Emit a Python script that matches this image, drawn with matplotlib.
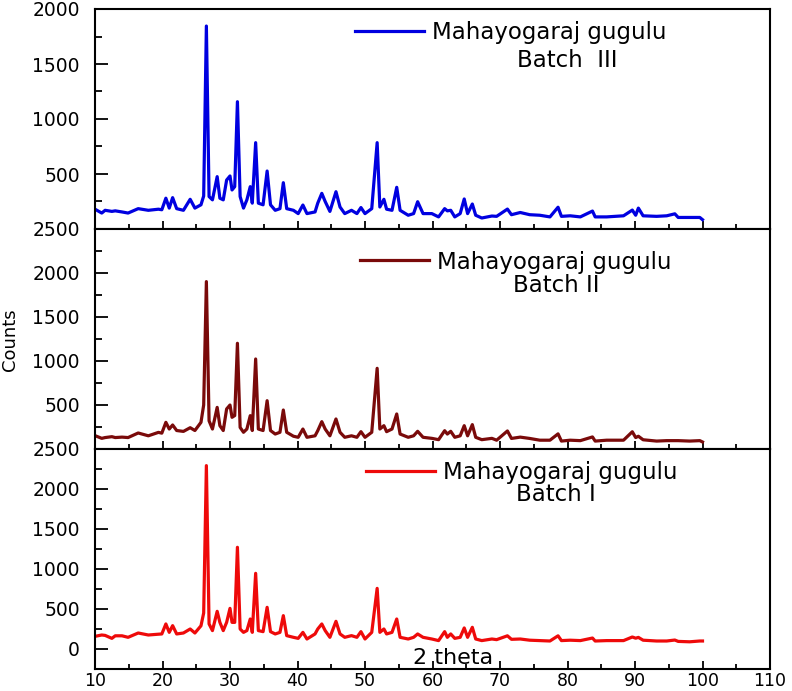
import numpy as np
import matplotlib
matplotlib.use("Agg")
import matplotlib.pyplot as plt
from matplotlib.ticker import MultipleLocator

plt.rcParams['font.family'] = ['DejaVu Sans']

# 2 theta positions (deg)
two_theta = [10.0, 11.0, 11.5, 12.5, 13.0, 14.0, 14.9, 16.4, 17.9, 19.4,
             19.9, 20.5, 21.0, 21.5, 22.1, 23.1, 24.1, 24.8, 25.7, 26.1,
             26.5, 26.9, 27.4, 28.1, 28.5, 29.0, 29.5, 30.0, 30.3, 30.7,
             31.1, 31.5, 32.0, 32.5, 33.0, 33.3, 33.8, 34.2, 34.9, 35.5,
             36.0, 36.7, 37.4, 37.9, 38.4, 39.4, 40.1, 40.8, 41.4, 42.6,
             43.0, 43.6, 44.1, 44.8, 45.7, 46.3, 47.0, 48.0, 48.8, 49.4,
             50.0, 51.0, 51.8, 52.2, 52.8, 53.2, 54.0, 54.7, 55.2, 56.4,
             57.2, 57.8, 58.6, 59.9, 60.9, 61.8, 62.2, 62.7, 63.3, 64.1,
             64.7, 65.2, 65.9, 66.4, 67.3, 68.8, 69.5, 71.1, 71.7, 73.0,
             74.4, 75.9, 77.4, 78.6, 79.1, 80.4, 81.9, 83.7, 84.1, 85.8,
             88.3, 89.6, 90.1, 90.5, 91.2, 93.2, 94.7, 95.9, 96.4, 98.1,
             99.6, 100.0]

batch3 = [180, 145, 170, 160, 165, 155, 145, 185, 170, 180,
          175, 280, 190, 285, 185, 170, 270, 190, 220, 300,
          1845, 295, 265, 476, 280, 265, 445, 482, 355, 385,
          1157, 295, 190, 265, 385, 235, 785, 235, 220, 527,
          220, 170, 185, 421, 185, 170, 140, 218, 140, 155,
          235, 324, 250, 160, 339, 200, 140, 170, 140, 195,
          140, 185, 785, 200, 270, 180, 170, 379, 170, 125,
          140, 248, 140, 140, 110, 185, 165, 170, 110, 140,
          273, 140, 227, 125, 100, 118, 115, 181, 130, 150,
          130, 125, 110, 198, 115, 120, 110, 163, 110, 110,
          120, 172, 125, 190, 120, 115, 120, 138, 105, 105,
          105, 85]

batch2 = [152, 121, 130, 140, 130, 135, 130, 182, 150, 189,
          180, 303, 227, 273, 210, 200, 242, 210, 303, 500,
          1902, 320, 227, 473, 265, 210, 455, 500, 360, 380,
          1201, 245, 190, 227, 379, 210, 1023, 227, 210, 549,
          210, 170, 190, 443, 190, 145, 133, 227, 133, 150,
          208, 311, 227, 150, 341, 190, 133, 150, 133, 197,
          133, 190, 917, 227, 265, 197, 227, 398, 170, 133,
          150, 201, 133, 121, 106, 208, 170, 201, 133, 150,
          265, 150, 277, 133, 106, 121, 100, 205, 120, 135,
          120, 100, 100, 172, 90, 100, 95, 137, 90, 100,
          100, 196, 130, 145, 105, 90, 95, 95, 95, 90,
          95, 80]

batch1 = [158, 175, 170, 133, 165, 165, 146, 200, 175, 185,
          188, 313, 208, 292, 188, 200, 250, 200, 290, 450,
          2292, 313, 230, 471, 333, 230, 333, 508, 333, 333,
          1271, 250, 208, 230, 375, 208, 946, 230, 217, 521,
          217, 188, 208, 417, 167, 146, 133, 208, 125, 188,
          250, 313, 230, 146, 346, 188, 146, 167, 146, 217,
          125, 208, 758, 208, 250, 188, 208, 375, 146, 125,
          146, 188, 146, 125, 105, 217, 146, 188, 133, 146,
          263, 146, 271, 125, 105, 125, 117, 165, 121, 125,
          110, 105, 100, 165, 105, 110, 105, 137, 100, 105,
          105, 150, 135, 145, 110, 100, 100, 112, 95, 90,
          100, 100]

names = ["Batch  III", "Batch II", "Batch I"]
series = [batch3, batch2, batch1]
colors = ["#0000e0", "#7a0a0a", "#ee0a0a"]
ylims = [(0, 2000), (0, 2500), (-250, 2500)]
yticks = [[500, 1000, 1500, 2000],
          [500, 1000, 1500, 2000, 2500],
          [0, 500, 1000, 1500, 2000, 2500]]
leg_pos = [(0.385, 0.891), (0.393, 0.85), (0.402, 0.895)]
batch_pos = [(0.70, 0.768), (0.683, 0.745), (0.683, 0.793)]

fig = plt.figure(figsize=(7.92, 6.91), dpi=100)
h = 220 / 691
bottoms = [1 - 229 / 691, 1 - 449 / 691, 1 - 669 / 691]
axes = []
for i in range(3):
    ax = fig.add_axes([95 / 792, bottoms[i], 675 / 792, h])
    axes.append(ax)
    ax.plot(two_theta, series[i], color=colors[i], lw=2.3,
            label="Mahayogaraj gugulu")
    ax.set_xlim(10, 110)
    ax.set_ylim(*ylims[i])
    ax.set_yticks(yticks[i])
    ax.yaxis.set_minor_locator(MultipleLocator(250))
    ax.xaxis.set_major_locator(MultipleLocator(10))
    ax.xaxis.set_minor_locator(MultipleLocator(5))
    ax.tick_params(axis='y', which='major', direction='in', length=9.5,
                   width=1.3, labelsize=13.5, pad=11)
    ax.tick_params(axis='y', which='minor', direction='in', length=5, width=1.3)
    ax.tick_params(axis='x', which='major', direction='in', length=6,
                   width=1.3, labelsize=12.5, pad=2.5)
    ax.tick_params(axis='x', which='minor', direction='in', length=3.5, width=1.3)
    if i < 2:
        ax.tick_params(axis='x', labelbottom=False)
    for s in ax.spines.values():
        s.set_linewidth(1.5)
    leg = ax.legend(loc='center left', bbox_to_anchor=leg_pos[i], frameon=False,
                    fontsize=16.5, handlelength=3.0, handletextpad=0.35,
                    borderpad=0, borderaxespad=0)
    ax.text(batch_pos[i][0], batch_pos[i][1], names[i], transform=ax.transAxes,
            ha='center', va='center', fontsize=16.5)

axes[2].text(0.53, 0.05, "2 theta", transform=axes[2].transAxes,
             ha='center', va='center', fontsize=16)
fig.text(0.012, 1 - 340 / 691, "Counts", rotation=90, ha='center',
         va='center', fontsize=13)

fig.savefig("out.png", dpi=100)
